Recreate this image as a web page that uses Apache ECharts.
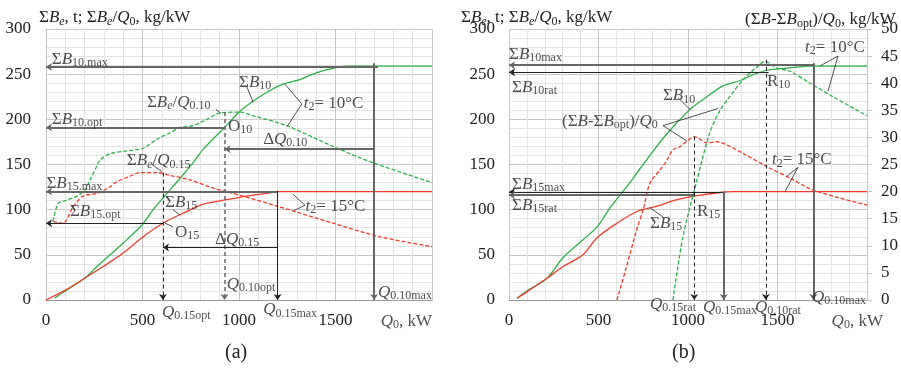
<!DOCTYPE html>
<html>
<head>
<meta charset="utf-8">
<script src="https://cdn.jsdelivr.net/npm/echarts@6/dist/echarts.min.js"></script>
<style>
html, body { margin: 0; background: #fff; }
#chart { width: 901px; height: 368px; }
</style>
</head>
<body>
<div id="chart"></div>
<script>
// ---- (a) ----
// sum B10, t
var qB10a = [45, 100, 200, 264, 332, 400, 497, 555, 606, 704, 762, 815, 925, 1005, 1073, 1145, 1228, 1316, 1383, 1456, 1560, 1700, 2000];
var vB10a = [2, 10, 24, 37, 50, 63, 83, 100, 113, 137, 152, 167, 191, 209, 220, 230, 239, 244, 250, 255, 259, 259, 259];
// sum B15, t
var qB15a = [0, 100, 200, 296, 400, 497, 606, 720, 815, 935, 1040, 1143, 1208, 2000];
var vB15a = [0, 11, 24, 37, 52, 69, 85, 97, 106, 111, 115, 118, 120, 120];
// sum Be / Q 0.10, kg/kW
var qR10a = [36, 63, 100, 160, 202, 228, 254, 280, 332, 419, 503, 575, 642, 694, 762, 834, 901, 1005, 1073, 1247, 1487, 1694, 2000];
var vR10a = [87, 107, 110, 115, 122, 133, 144, 155, 162, 165, 168, 178, 185, 191, 193, 200, 207, 208, 204, 193, 170, 152, 130];
// sum Be / Q 0.15, kg/kW
var qR15a = [36, 88, 140, 192, 264, 330, 368, 435, 487, 575, 642, 746, 865, 937, 1196, 1487, 1730, 2000];
var vR15a = [87, 85, 103, 115, 118, 125, 131, 137, 141, 141, 138, 133, 124, 120, 104, 85, 70, 59];

// ---- (b) ----
var qB10b = [45, 100, 212, 302, 380, 492, 564, 620, 687, 749, 882, 1011, 1084, 1196, 1291, 1385, 1458, 1570, 1682, 2000];
var vB10b = [2, 10, 24, 47, 61, 81, 102, 116, 133, 150, 184, 211, 222, 237, 243, 251, 255, 257, 259, 259];
var qB15b = [45, 100, 212, 302, 413, 492, 603, 715, 827, 939, 1035, 1179, 1250, 2000];
var vB15b = [2, 9, 24, 37, 50, 69, 85, 98, 104, 111, 115, 119, 120, 120];
// (sum B - sum Bopt) / Q0, right axis
var qD10b = [916, 972, 1050, 1123, 1179, 1235, 1307, 1385, 1430, 1497, 1570, 1682, 1810, 2000];
var vD10b = [0, 11.7, 22.1, 31, 35, 37.6, 40.6, 43, 44, 42.8, 42.2, 40, 37.5, 34];
var qD15b = [603, 657, 713, 749, 788, 844, 882, 916, 955, 1039, 1106, 1162, 1218, 1300, 1441, 1570, 1698, 2000];
var vD15b = [0, 6.2, 12.9, 16.6, 21.6, 24, 25.8, 27.7, 28.3, 30.1, 29, 29.2, 28.6, 27.2, 24.6, 22.5, 20.3, 17.5];

var GREEN = '#2bb24a', RED = '#ee3d2c', DARK = '#666', INK = '#222';
var F = 'Liberation Serif';

function pts(q, v) { return q.map(function (x, i) { return [x, v[i]]; }); }

var rich = {
    n: { fontFamily: F, fontSize: 17, fontWeight: 'normal', color: INK, lineHeight: 20 },
    i: { fontFamily: F, fontSize: 17, fontWeight: 'normal', color: INK, lineHeight: 20, fontStyle: 'italic' },
    s: { fontFamily: F, fontSize: 12, fontWeight: 'normal', color: INK, height: 13, verticalAlign: 'bottom' },
    si: { fontFamily: F, fontSize: 12, fontWeight: 'normal', color: INK, height: 13, verticalAlign: 'bottom', fontStyle: 'italic' }
};

// annotation texts: [x, y, text, position]
var textA = [
    [30, 266, '{n|Σ}{i|B}{s|10.max}'],
    [30, 200, '{n|Σ}{i|B}{s|10.opt}'],
    [523, 219, '{n|Σ}{i|B}{si|e}{n|/}{i|Q}{s|0.10}'],
    [1000, 241, '{n|Σ}{i|B}{s|10}'],
    [1335, 218, '{i|t}{s|2}{n|= 10°C}'],
    [943, 192, '{n|O}{s|10}'],
    [1125, 178, '{n|Δ}{i|Q}{s|0.10}'],
    [419, 154, '{n|Σ}{i|B}{si|e}{n|/}{i|Q}{s|0.15}'],
    [2, 129, '{n|Σ}{i|B}{s|15.max}'],
    [124, 98, '{n|Σ}{i|B}{s|15.opt}'],
    [617, 108, '{n|Σ}{i|B}{s|15}'],
    [668, 75, '{n|O}{s|15}'],
    [876, 67, '{n|Δ}{i|Q}{s|0.15}'],
    [1345, 104, '{i|t}{s|2}{n|= 15°C}'],
    [937, 17, '{i|Q}{s|0.10opt}'],
    [601, -14, '{i|Q}{s|0.15opt}'],
    [1125, -11, '{i|Q}{s|0.15max}'],
    [1720, 8, '{i|Q}{s|0.10max}'],
    [2000, -24, '{i|Q}{s|0}{n|, kW}', 'left']
];
var textB = [
    [0, 272, '{n|Σ}{i|B}{s|10max}'],
    [17, 235, '{n|Σ}{i|B}{s|10rat}'],
    [860, 226, '{n|Σ}{i|B}{s|10}'],
    [296, 198, '{n|(Σ}{i|B}{n|-Σ}{i|B}{s|opt}{n|)/}{i|Q}{s|0}'],
    [1441, 242, '{n|R}{s|10}'],
    [1654, 280, '{i|t}{s|2}{n|= 10°C}'],
    [1469, 155, '{i|t}{s|2}{n|= 15°C}'],
    [17, 128, '{n|Σ}{i|B}{s|15max}'],
    [17, 105, '{n|Σ}{i|B}{s|15rat}'],
    [788, 85, '{n|Σ}{i|B}{s|15}'],
    [1050, 98, '{n|R}{s|15}'],
    [788, -5, '{i|Q}{s|0.15rat}'],
    [1084, -8, '{i|Q}{s|0.15max}'],
    [1374, -8, '{i|Q}{s|0.10rat}'],
    [1693, 3, '{i|Q}{s|0.10max}'],
    [2089, -24, '{i|Q}{s|0}{n|, kW}', 'left']
];

// arrows / lines: [x1, y1, x2, y2, style, arrow]
var G = { color: DARK, width: 2, type: 'solid' },
    K = { color: INK, width: 1, type: 'solid' },
    GD = { color: DARK, width: 1.5, type: [4, 3] },
    KD = { color: INK, width: 1, type: [4, 3] },
    L = { color: INK, width: 0.8, type: 'solid' };
var linesA = [
    [1720, 258, 0, 258, G, 1],
    [1700, 262, 1700, 0, G, 1],
    [925, 191, 0, 191, G, 1],
    [925, 208, 925, 0, GD, 1],
    [1700, 167, 925, 167, G, 1],
    [1200, 120, 0, 120, G, 1],
    [1200, 121, 1200, 0, K, 1],
    [606, 85, 0, 85, K, 1],
    [606, 141, 606, 0, KD, 1],
    [1200, 58, 606, 58, K, 1],
    [880, 211, 905, 207, L, 0],
    [1041, 236, 1073, 219, L, 0],
    [1238, 239, 1326, 217, L, 0],
    [1326, 217, 1249, 192, L, 0],
    [549, 150, 601, 142, L, 0],
    [658, 100, 694, 94, L, 0],
    [617, 85, 658, 81, L, 0],
    [1280, 117, 1342, 105, L, 0],
    [1342, 105, 1285, 99, L, 0],
    [953, 8, 927, -1, L, 0],
    [606, -2, 677, -8, L, 0]
];
var linesB = [
    [1700, 260, 0, 260, G, 1],
    [1700, 262, 1700, 0, G, 1],
    [1450, 252, 0, 252, K, 1],
    [1435, 266, 1435, 0, KD, 1],
    [1200, 119.5, 0, 119.5, K, 1],
    [1200, 120, 1200, 0, G, 1],
    [1040, 116, 0, 116, G, 1],
    [1035, 181, 1035, 0, KD, 1],
    [944, 224, 1011, 211, L, 0],
    [860, 193, 1168, 212, L, 0],
    [860, 193, 994, 176, L, 0],
    [1838, 270, 1737, 259, L, 0],
    [1838, 270, 1782, 231, L, 0],
    [1615, 147, 1553, 137, L, 0],
    [1615, 147, 1542, 120, L, 0],
    [860, 92, 788, 102, L, 0],
    [1000, -3, 1039, 3, L, 0]
];

function markLines(list) {
    return {
        silent: true, animation: false,
        symbolSize: 6,
        label: { show: false },
        emphasis: { disabled: true },
        data: list.map(function (l) {
            return [
                { coord: [l[0], l[1]], symbol: 'none', lineStyle: l[4] },
                { coord: [l[2], l[3]], symbol: l[5] ? 'arrow' : 'none' }
            ];
        })
    };
}

function textSeries(list, xi, yi, lines) {
    return {
        type: 'scatter', xAxisIndex: xi, yAxisIndex: yi, symbolSize: 0, silent: true, clip: false, z: 10,
        label: { show: true, distance: 0, rich: rich },
        data: list.map(function (t) {
            return { value: [t[0], t[1]], label: { formatter: t[2], position: t[3] || 'right' } };
        }),
        markLine: markLines(lines)
    };
}

function curve(q, v, xi, yi, color, dashed) {
    return {
        type: 'line', xAxisIndex: xi, yAxisIndex: yi, data: pts(q, v),
        showSymbol: false, smooth: 0.3, silent: true, z: 3,
        lineStyle: { color: color, width: 1.3, type: dashed ? [4, 2] : 'solid' }
    };
}

function xAxis(gi) {
    return {
        gridIndex: gi, type: 'value', min: 0, max: 2000, interval: 500,
        axisLine: { show: true, lineStyle: { color: '#999', width: 1 } },
        axisTick: { show: false },
        axisLabel: { fontFamily: F, fontSize: 17, color: INK, margin: 12,
            formatter: function (v) { return v === 2000 ? '' : v; } },
        splitLine: { show: true, lineStyle: { color: '#c6c6c6' } },
        minorTick: { splitNumber: 5 },
        minorSplitLine: { show: true, lineStyle: { color: '#e4e4e4' } }
    };
}
function yAxis(gi, margin) {
    return {
        gridIndex: gi, type: 'value', min: 0, max: 300, interval: 50,
        axisLine: { show: false }, axisTick: { show: false },
        axisLabel: { fontFamily: F, fontSize: 17, color: INK, margin: margin },
        splitLine: { show: true, lineStyle: { color: '#c6c6c6' } },
        minorTick: { splitNumber: 5 },
        minorSplitLine: { show: true, lineStyle: { color: '#e4e4e4' } }
    };
}

var chart = echarts.init(document.getElementById('chart'));
chart.setOption({
    animation: false,
    backgroundColor: '#fff',
    title: [
        { text: '{n|Σ}{i|B}{si|e}{n|, t; Σ}{i|B}{si|e}{n|/}{i|Q}{s|0}{n|, kg/kW}', left: 34, top: 3, textStyle: { fontWeight: 'normal', rich: rich } },
        { text: '{n|Σ}{i|B}{si|e}{n|, t; Σ}{i|B}{si|e}{n|/}{i|Q}{s|0}{n|, kg/kW}', left: 456, top: 3, textStyle: { fontWeight: 'normal', rich: rich } },
        { text: '{n|(Σ}{i|B}{n|-Σ}{i|B}{s|opt}{n|)/}{i|Q}{s|0}{n|, kg/kW}', left: 740, top: 5, textStyle: { fontWeight: 'normal', rich: rich } },
        { text: '(a)', left: 220, top: 338, textStyle: { fontFamily: F, fontSize: 20, fontWeight: 'normal', color: INK } },
        { text: '(b)', left: 667, top: 338, textStyle: { fontFamily: F, fontSize: 20, fontWeight: 'normal', color: INK } }
    ],
    grid: [
        { left: 46, top: 29, width: 386, height: 271 },
        { left: 509, top: 29, width: 358, height: 271 }
    ],
    xAxis: [xAxis(0), xAxis(1)],
    yAxis: [
        yAxis(0, 15),
        yAxis(1, 14),
        {
            gridIndex: 1, type: 'value', position: 'right', min: 0, max: 50, interval: 5,
            axisLine: { show: false },
            axisTick: { show: true, length: 5, lineStyle: { color: '#c6c6c6' } },
            axisLabel: { fontFamily: F, fontSize: 17, color: INK, margin: 14 },
            splitLine: { show: false }
        }
    ],
    series: [
        curve(qB10a, vB10a, 0, 0, GREEN, false),
        curve(qB15a, vB15a, 0, 0, RED, false),
        curve(qR10a, vR10a, 0, 0, GREEN, true),
        curve(qR15a, vR15a, 0, 0, RED, true),
        curve(qB10b, vB10b, 1, 1, GREEN, false),
        curve(qB15b, vB15b, 1, 1, RED, false),
        curve(qD10b, vD10b, 1, 2, GREEN, true),
        curve(qD15b, vD15b, 1, 2, RED, true),
        textSeries(textA, 0, 0, linesA),
        textSeries(textB, 1, 1, linesB)
    ]
});
</script>
</body>
</html>
